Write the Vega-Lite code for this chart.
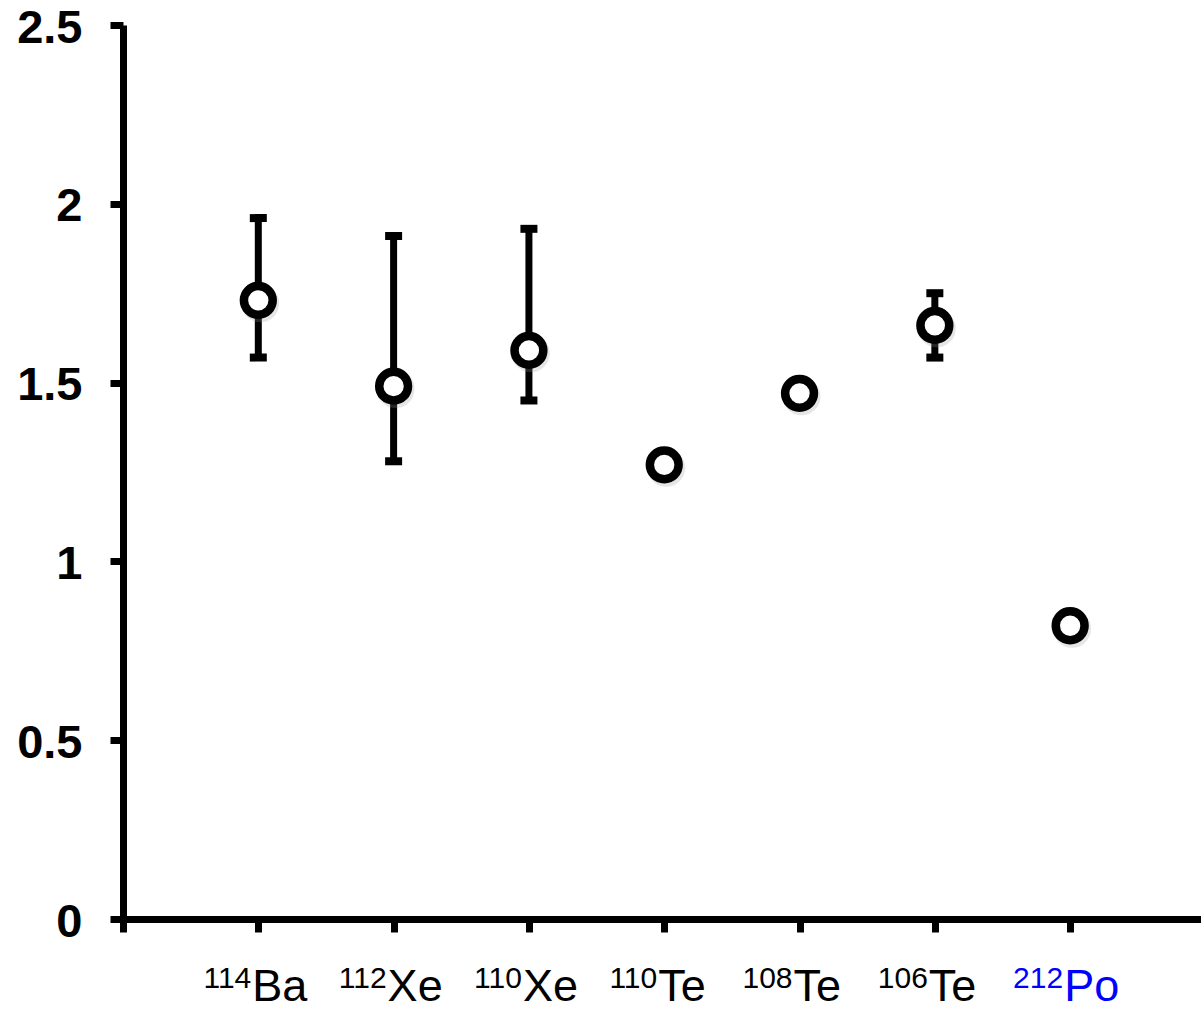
{
  "$schema": "https://vega.github.io/schema/vega-lite/v6.json",
  "autosize": {"type": "none"},
  "padding": {"left": 123, "top": 25, "right": 0, "bottom": 92},
  "width": 1078,
  "height": 894,
  "background": "white",
  "config": {
    "view": {"stroke": null},
    "font": "Liberation Sans",
    "axis": {"grid": false, "domainColor": "black", "tickColor": "black", "title": null}
  },
  "data": {
    "values": [
      {"nucleus": "114Ba", "mass": "114", "element": "Ba", "order": 1, "value": 1.73, "lo": 1.57, "hi": 1.96},
      {"nucleus": "112Xe", "mass": "112", "element": "Xe", "order": 2, "value": 1.49, "lo": 1.28, "hi": 1.91},
      {"nucleus": "110Xe", "mass": "110", "element": "Xe", "order": 3, "value": 1.59, "lo": 1.45, "hi": 1.93},
      {"nucleus": "110Te", "mass": "110", "element": "Te", "order": 4, "value": 1.27, "lo": null, "hi": null},
      {"nucleus": "108Te", "mass": "108", "element": "Te", "order": 5, "value": 1.47, "lo": null, "hi": null},
      {"nucleus": "106Te", "mass": "106", "element": "Te", "order": 6, "value": 1.66, "lo": 1.57, "hi": 1.75},
      {"nucleus": "212Po", "mass": "212", "element": "Po", "order": 7, "value": 0.82, "lo": null, "hi": null}
    ]
  },
  "encoding": {
    "x": {
      "field": "order",
      "type": "quantitative",
      "scale": {"domain": [0, 7.967], "nice": false, "zero": false},
      "axis": {
        "values": [0, 1, 2, 3, 4, 5, 6, 7],
        "labels": false,
        "domainWidth": 7,
        "tickWidth": 7,
        "tickSize": 13
      }
    }
  },
  "layer": [
    {
      "transform": [{"filter": "datum.lo != null"}],
      "mark": {"type": "rule", "color": "black", "strokeWidth": 7},
      "encoding": {
        "y": {
          "field": "lo",
          "type": "quantitative",
          "scale": {"domain": [0, 2.5], "nice": false},
          "axis": {
            "values": [0, 0.5, 1, 1.5, 2, 2.5],
            "format": "~g",
            "domainWidth": 7,
            "tickWidth": 7,
            "tickSize": 13,
            "labelFont": "Liberation Sans",
            "labelFontWeight": "bold",
            "labelFontSize": 47,
            "labelColor": "black",
            "labelPadding": 28,
            "labelBaseline": "middle",
            "labelOffset": 3
          }
        },
        "y2": {"field": "hi"}
      }
    },
    {
      "transform": [{"filter": "datum.lo != null"}],
      "mark": {"type": "tick", "orient": "horizontal", "color": "black", "size": 17, "thickness": 8, "opacity": 1},
      "encoding": {"y": {"field": "lo", "type": "quantitative"}}
    },
    {
      "transform": [{"filter": "datum.hi != null"}],
      "mark": {"type": "tick", "orient": "horizontal", "color": "black", "size": 17, "thickness": 8, "opacity": 1},
      "encoding": {"y": {"field": "hi", "type": "quantitative"}}
    },
    {
      "mark": {"type": "point", "shape": "circle", "filled": false, "stroke": "#9a9a9a", "strokeOpacity": 0.35, "strokeWidth": 9, "size": 830, "xOffset": 2, "yOffset": 3},
      "encoding": {"y": {"field": "value", "type": "quantitative"}}
    },
    {
      "mark": {"type": "point", "shape": "circle", "filled": true, "fill": "white", "stroke": "black", "strokeWidth": 8.5, "size": 830, "opacity": 1},
      "encoding": {"y": {"field": "value", "type": "quantitative"}}
    },
    {
      "mark": {"type": "text", "align": "right", "baseline": "alphabetic", "fontSize": 30, "dx": -7, "dy": 69, "font": "Liberation Sans"},
      "encoding": {
        "y": {"datum": 0, "type": "quantitative"},
        "text": {"field": "mass"},
        "color": {"condition": {"test": "datum.nucleus === '212Po'", "value": "#0000ff"}, "value": "black"}
      }
    },
    {
      "mark": {"type": "text", "align": "left", "baseline": "alphabetic", "fontSize": 45, "dx": -6, "dy": 82, "font": "Liberation Sans"},
      "encoding": {
        "y": {"datum": 0, "type": "quantitative"},
        "text": {"field": "element"},
        "color": {"condition": {"test": "datum.nucleus === '212Po'", "value": "#0000ff"}, "value": "black"}
      }
    }
  ]
}
